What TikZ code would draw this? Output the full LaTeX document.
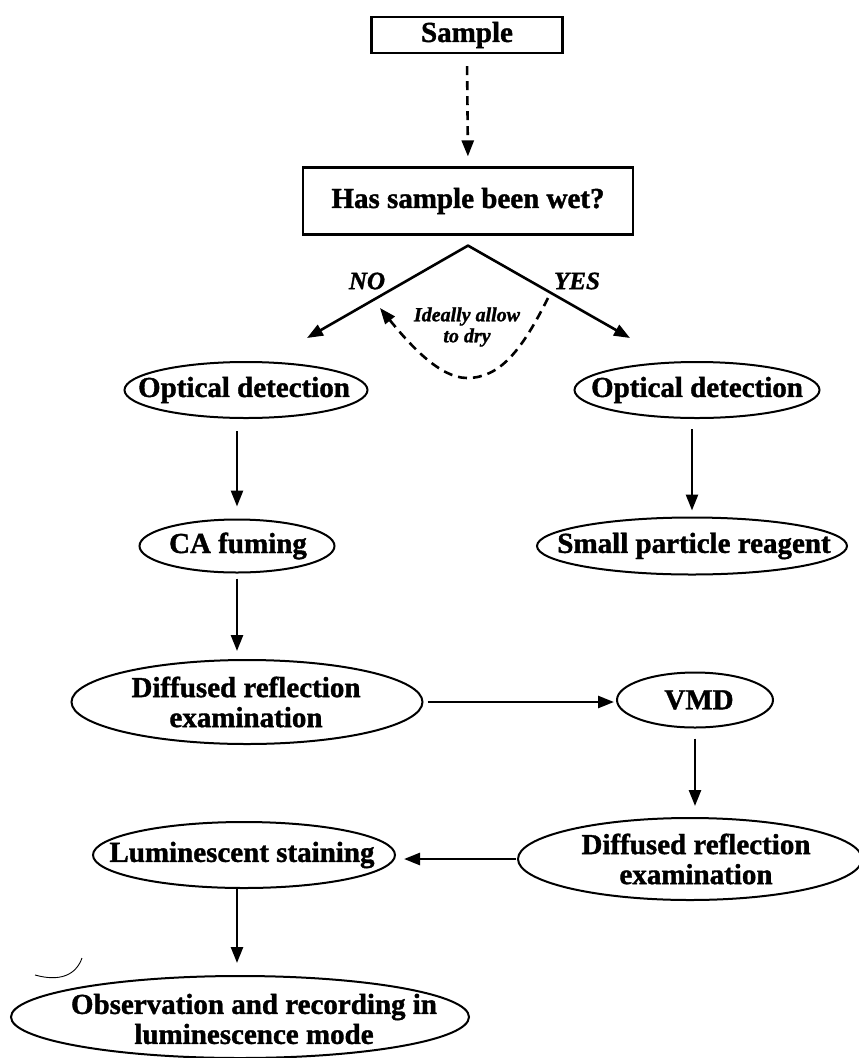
\documentclass[tikz,border=0pt]{standalone}
\usepackage{fontspec}
\setmainfont{Liberation Serif}[BoldFeatures={FakeBold=1.3},BoldItalicFeatures={FakeBold=1.3}]
\usetikzlibrary{arrows.meta,shapes.geometric,calc}
\begin{document}
\begin{tikzpicture}[x=1pt,y=-1pt,
  lbl/.style={font=\fontsize{29}{30}\selectfont\bfseries, align=center, inner sep=0pt},
  box/.style={lbl, draw, line width=2.2pt, rectangle},
  oval/.style={draw, line width=2pt, ellipse, inner sep=0pt},
  arr/.style={line width=2.6pt, -{Triangle[length=16pt,width=12pt]}},
  dsh/.style={arr, dash pattern=on 9pt off 6pt},
  tag/.style={font=\fontsize{25}{26}\selectfont\bfseries\itshape, inner sep=0pt}]
\path[use as bounding box] (0,0) rectangle (859,1058);

% boxes
\node[box, minimum width=191pt, minimum height=36pt] (sample) at (467,35) {Sample};
\node[box, minimum width=330pt, minimum height=67pt] (wet) at (468,201) {Has sample been wet?};

% ellipses
\node[oval, minimum width=243pt, minimum height=56pt] (opt1) at (246,390) {};
\node[lbl] (opt1t) at (244,390) {Optical detection};
\node[oval, minimum width=245pt, minimum height=56pt] (opt2) at (697,390) {};
\node[lbl] (opt2t) at (697,390) {Optical detection};
\node[oval, minimum width=195pt, minimum height=53pt] (ca) at (237,546) {};
\node[lbl] (cat) at (238,546) {CA fuming};
\node[oval, minimum width=310pt, minimum height=57pt] (spr) at (692,546) {};
\node[lbl] (sprt) at (694,546) {Small particle reagent};
\node[oval, minimum width=351pt, minimum height=84pt] (dr1) at (247,702) {};
\node[lbl] (dr1t) at (246,702) {Diffused reflection\\examination};
\node[oval, minimum width=156pt, minimum height=55pt] (vmd) at (695,700) {};
\node[lbl] (vmdt) at (699,700) {VMD};
\node[oval, minimum width=344pt, minimum height=82pt] (dr2) at (690,859) {};
\node[lbl] (dr2t) at (696,859) {Diffused reflection\\examination};
\node[oval, minimum width=302pt, minimum height=66pt] (lum) at (244,855) {};
\node[lbl] (lumt) at (242,855) {Luminescent staining};
\node[oval, minimum width=458pt, minimum height=82pt] (obs) at (240,1017) {};
\node[lbl] (obst) at (254,1019) {Observation and recording in\\luminescence mode};

% decision branches
\coordinate (apex) at ($(wet.south)+(0,10)$);
\coordinate (noTip) at (307,338);
\coordinate (yesTip) at (630,338);
\node[tag] (no) at (367,281) {NO};
\node[tag] (yes) at (577,281) {YES};
\node[font=\fontsize{20}{21}\selectfont\bfseries\itshape, align=center, inner sep=0pt] (dry) at (467,327) {Ideally allow\\to dry};
\coordinate (dryA) at (548,298);
\coordinate (dryB) at (467,378);
\coordinate (dryC) at (380,308);

% connectors
\draw[dsh, shorten <=12pt, shorten >=10pt] (sample.south) -- (wet.north);
\draw[arr, line cap=round] (apex) -- (noTip);
\draw[arr, line cap=round] (apex) -- (yesTip);
\draw[dsh] (dryA) .. controls (522,350) and (500,378) .. (dryB) .. controls (440,378) and (410,345) .. (dryC);
\draw[arr, shorten <=12pt, shorten >=12pt] (ca.north |- opt1.south) -- (ca.north);
\draw[arr, shorten <=5pt, shorten >=8pt] (ca.south) -- (ca.south |- dr1.north);
\draw[arr, shorten <=10pt, shorten >=6pt] (spr.north |- opt2.south) -- (spr.north);
\draw[arr, shorten <=4pt, shorten >=2pt] (dr1.east) -- (dr1.east -| vmd.west);
\draw[arr, shorten <=10pt, shorten >=11pt] (vmd.south) -- (vmd.south |- dr2.north);
\draw[arr, shorten <=1pt, shorten >=8pt] (dr2.west) -- (dr2.west -| lum.east);
\draw[arr, shorten <=0pt, shorten >=12pt] (ca.south |- lum.south) -- (ca.south |- obs.north);

% stray pen mark in the scan
\draw[line width=0.9pt] (35,975) .. controls (60,982) and (76,975) .. (82,958);
\end{tikzpicture}
\end{document}
